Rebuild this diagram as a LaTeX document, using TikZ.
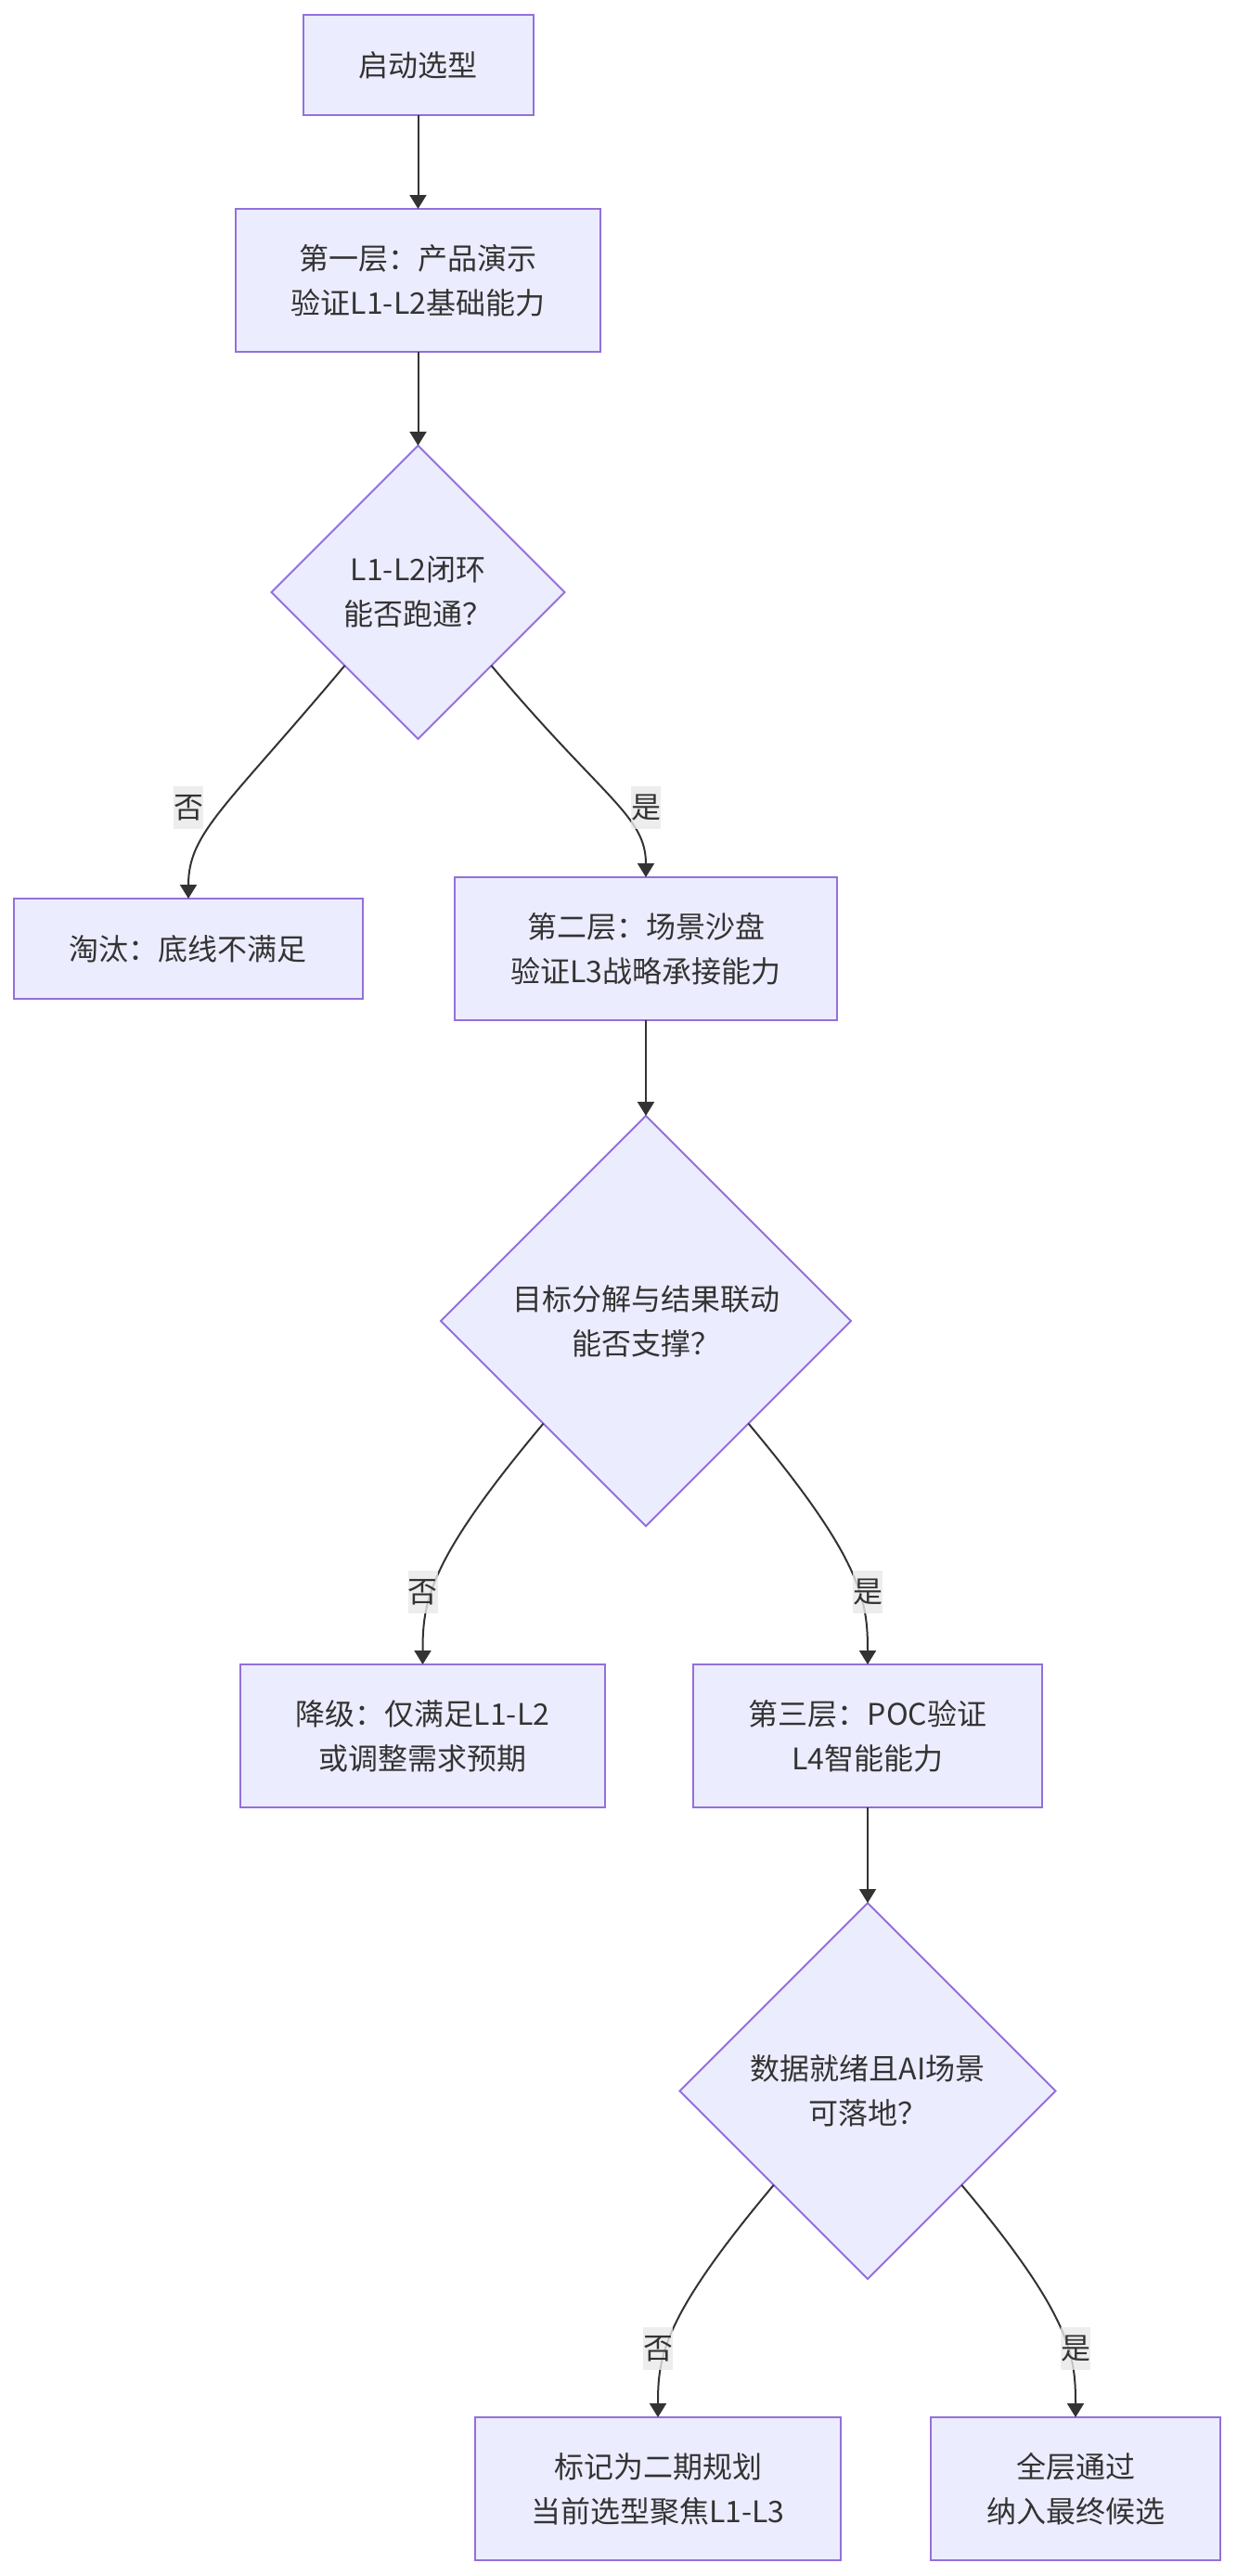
\documentclass[tikz,border=0pt]{standalone}
\usepackage{fontspec}
\setmainfont{Noto Sans CJK SC}
\usepackage{xcolor}
\usetikzlibrary{arrows.meta, positioning, shapes.geometric}

\definecolor{boxfill}{HTML}{ECECFF}
\definecolor{boxline}{HTML}{9370DB}
\definecolor{ink}{HTML}{333333}
\definecolor{tagfill}{HTML}{E8E8E8}

\begin{document}
\begin{tikzpicture}[
  every node/.style={font=\fontsize{16pt}{24pt}\selectfont, text=ink, outer sep=0pt},
  stage/.style={rectangle, draw=boxline, fill=boxfill, line width=1pt,
                inner xsep=30pt, inner ysep=8pt, minimum height=54pt, align=center},
  tall/.style={stage, minimum height=77pt},
  gate/.style={diamond, aspect=1, draw=boxline, fill=boxfill, line width=1pt,
               inner sep=0pt, align=center},
  tag/.style={fill=tagfill, fill opacity=0.8, text opacity=1, inner sep=0pt,
              minimum width=16pt, minimum height=23pt},
  flow/.style={draw=ink, line width=1pt, -{Triangle[length=7.5pt, width=9pt]}},
  leftarc/.style={flow, out=-130, in=90, out looseness=1.7, in looseness=0.6},
  rightarc/.style={flow, out=-50, in=90, out looseness=1.7, in looseness=0.6}
]
  \useasboundingbox (0,0) rectangle (666.5pt,-1387.5pt);

  \node[stage] (start) at (225.25pt,-35pt) {启动选型};
  \node[tall, below=50.5pt of start] (tier1) {第一层：产品演示\\验证L1-L2基础能力};
  \node[gate, minimum size=158pt, below=50.5pt of tier1] (gate1) {L1-L2闭环\\能否跑通？};
  \node[stage, below=86pt of gate1, xshift=-123.75pt] (drop) {淘汰：底线不满足};
  \node[tall, below=74.5pt of gate1, xshift=122.75pt] (tier2) {第二层：场景沙盘\\验证L3战略承接能力};
  \node[gate, minimum size=221pt, below=51.5pt of tier2] (gate2) {目标分解与结果联动\\能否支撑？};
  \node[tall, below=74.5pt of gate2, xshift=-120.25pt] (downgrade) {降级：仅满足L1-L2\\或调整需求预期};
  \node[tall, below=74.5pt of gate2, xshift=119.5pt] (tier3) {第三层：POC验证\\L4智能能力};
  \node[gate, minimum size=202.5pt, below=51.5pt of tier3] (gate3) {数据就绪且AI场景\\可落地？};
  \node[tall, below=74.5pt of gate3, xshift=-113pt] (phase2) {标记为二期规划\\当前选型聚焦L1-L3};
  \node[tall, below=74.5pt of gate3, xshift=112pt] (pass) {全层通过\\纳入最终候选};

  \draw[flow] (start) -- (tier1);
  \draw[flow] (tier1) -- (gate1);
  \draw[leftarc] (gate1.south west) to (drop);
  \draw[rightarc] (gate1.south east) to (tier2);
  \draw[flow] (tier2) -- (gate2);
  \draw[leftarc] (gate2.south west) to (downgrade);
  \draw[rightarc] (gate2.south east) to (tier3);
  \draw[flow] (tier3) -- (gate3);
  \draw[leftarc] (gate3.south west) to (phase2);
  \draw[rightarc] (gate3.south east) to (pass);

  \node[tag, above=37.5pt of drop] (no1) {否};
  \node[tag, above=26pt of tier2] (yes1) {是};
  \node[tag, above=27.5pt of downgrade] (no2) {否};
  \node[tag, above=27.5pt of tier3] (yes2) {是};
  \node[tag, above=25.5pt of phase2] (no3) {否};
  \node[tag, above=25.5pt of pass] (yes3) {是};
\end{tikzpicture}
\end{document}
